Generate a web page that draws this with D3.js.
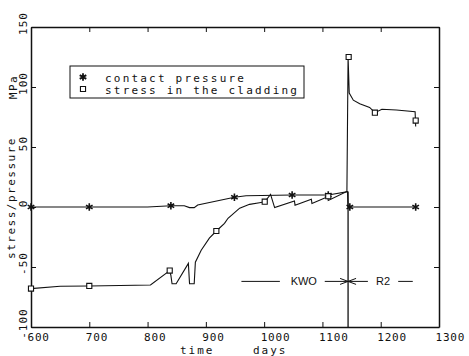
<!DOCTYPE html>
<html>
<head>
<meta charset="utf-8">
<script src="https://cdn.jsdelivr.net/npm/d3@7"></script>
<style>
  body { margin: 0; background: #fff; }
  text { font-family: "DejaVu Sans Mono", monospace; fill: #111; }
</style>
</head>
<body>
<div id="chart"></div>
<script>
// Values (time in days, MPa)
const xTicks = [600, 700, 800, 900, 1000, 1100, 1200, 1300];
const yTicks = [-100, -50, 0, 50, 100, 150];

const contactPressure = [
  [600, 0], [700, 0], [800, 0], [840, 1.1], [863, 1.1], [872, -0.5], [880, -0.5],
  [886, 1.7], [949, 8.1], [969, 9.4], [1048, 10], [1110, 10], [1143, 12.8],
  [1144, 0], [1260, 0]
];
const contactMarkers = [
  [600, 0], [700, 0], [840, 1.1], [949, 8.1], [1048, 10], [1110, 10], [1147, 0], [1260, 0]
];

const claddingStress = [
  [600, -68], [650, -66], [700, -65.8], [805, -65], [838, -53], [840, -57], [842, -64],
  [849, -64], [870, -47], [872, -64], [880, -64], [882, -46], [892, -36], [906, -26],
  [918, -20], [932, -13.6], [938, -9.4], [958, -1], [975, 2.2], [992, 3.6], [1001, 4.4],
  [1011, 10.5], [1018, -0.5], [1052, 5], [1053, 1.5], [1081, 6.5], [1082, 3],
  [1109, 8.5], [1110, 5.5], [1142, 13], [1144, 125], [1146, 95], [1153, 89],
  [1164, 86], [1181, 83], [1190, 78.6], [1202, 81.4], [1227, 80.8], [1259, 79.4],
  [1260, 67]
];
const stressMarkers = [
  [600, -68], [700, -65.8], [838, -53], [918, -20], [1001, 4.4], [1110, 9],
  [1145, 125], [1190, 78.6], [1260, 72]
];

const legendLabels = ["contact pressure", "stress in the cladding"];
const transferDay = 1144;   // KWO -> R2

const width = 469, height = 356;
const x = d3.scaleLinear().domain([600, 1300]).range([31, 439]);
const y = d3.scaleLinear().domain([-100, 150]).range([327, 27]);
const plain = d => String(d);

const svg = d3.select("#chart").append("svg")
  .attr("width", width)
  .attr("height", height);

// Frame with inward ticks on all four sides
const bottom = svg.append("g")
  .attr("transform", `translate(0,${y(-100)})`)
  .call(d3.axisBottom(x).tickValues(xTicks).tickFormat(plain)
    .tickSize(-5).tickSizeOuter(0).tickPadding(6));
bottom.selectAll("text")
  .attr("text-anchor", "start")
  .attr("x", -4)
  .style("font-size", "11px")
  .style("letter-spacing", "0.8px");

const left = svg.append("g")
  .attr("transform", `translate(${x(600)},0)`)
  .call(d3.axisLeft(y).tickValues(yTicks).tickFormat(plain).tickSize(-5).tickSizeOuter(0));
left.selectAll("text")
  .attr("x", null)
  .attr("dy", null)
  .attr("text-anchor", "middle")
  .attr("transform", "translate(-4,-4) rotate(-90)")
  .style("font-size", "11px")
  .style("letter-spacing", "1px");

svg.append("g")
  .attr("transform", `translate(0,${y(150)})`)
  .call(d3.axisTop(x).tickValues(xTicks).tickSize(-5).tickSizeOuter(0).tickFormat(""));

svg.append("g")
  .attr("transform", `translate(${x(1300)},0)`)
  .call(d3.axisRight(y).tickValues(yTicks).tickSize(-5).tickSizeOuter(0).tickFormat(""));

svg.selectAll(".domain").attr("stroke", "#111").attr("stroke-width", 1.5);
svg.selectAll(".tick line").attr("stroke", "#111");

// Axis titles
svg.append("text").attr("x", 180).attr("y", 354)
  .style("font-size", "11px").style("letter-spacing", "2px").text("time");
svg.append("text").attr("x", 253).attr("y", 354)
  .style("font-size", "11px").style("letter-spacing", "2px").text("days");
svg.append("text")
  .attr("transform", "translate(15,198) rotate(-90)")
  .attr("text-anchor", "middle")
  .style("font-size", "11px").style("letter-spacing", "1.5px")
  .text("stress/pressure");
svg.append("text")
  .attr("transform", "translate(17,87) rotate(-90)")
  .attr("text-anchor", "middle")
  .style("font-size", "11px").style("letter-spacing", "1.5px")
  .text("MPa");

// Curves
const line = d3.line().x(d => x(d[0])).y(d => y(d[1]));

svg.append("path")
  .datum(contactPressure)
  .attr("d", line)
  .attr("fill", "none")
  .attr("stroke", "#111")
  .attr("stroke-width", 1.1);

svg.append("path")
  .datum(claddingStress)
  .attr("d", line)
  .attr("fill", "none")
  .attr("stroke", "#111")
  .attr("stroke-width", 1.1);

// Divider at the transfer between reactors
svg.append("line")
  .attr("x1", x(transferDay)).attr("x2", x(transferDay))
  .attr("y1", y(-100)).attr("y2", y(13))
  .attr("stroke", "#111").attr("stroke-width", 1.3);

// Markers
const star = d3.symbol().type(d3.symbolAsterisk).size(40);
const square = d3.symbol().type(d3.symbolSquare).size(26);

svg.append("g").selectAll("path")
  .data(contactMarkers)
  .enter().append("path")
  .attr("transform", d => `translate(${x(d[0])},${y(d[1])})`)
  .attr("d", star)
  .attr("fill", "none")
  .attr("stroke", "#111")
  .attr("stroke-width", 1.6);

svg.append("g").selectAll("path")
  .data(stressMarkers)
  .enter().append("path")
  .attr("transform", d => `translate(${x(d[0])},${y(d[1])})`)
  .attr("d", square)
  .attr("fill", "#fff")
  .attr("stroke", "#111")
  .attr("stroke-width", 1.1);

// Legend
const legend = svg.append("g");
legend.append("rect")
  .attr("x", 70).attr("y", 66).attr("width", 234).attr("height", 32)
  .attr("fill", "#fff").attr("stroke", "#111").attr("stroke-width", 1);
legend.append("path")
  .attr("transform", "translate(83,77)")
  .attr("d", star)
  .attr("fill", "none").attr("stroke", "#111").attr("stroke-width", 1.8);
legend.append("path")
  .attr("transform", "translate(83,89)")
  .attr("d", square)
  .attr("fill", "#fff").attr("stroke", "#111").attr("stroke-width", 1.1);
legend.selectAll("text")
  .data(legendLabels)
  .enter().append("text")
  .attr("x", 105)
  .attr("y", (d, i) => 81.5 + i * 12.5)
  .style("font-size", "11px")
  .style("letter-spacing", "2.2px")
  .text(d => d);

// KWO / R2 annotation
const annoY = y(-62);
const anno = svg.append("g").attr("stroke", "#111").attr("stroke-width", 1);
anno.append("line").attr("x1", x(961)).attr("x2", x(1027)).attr("y1", annoY).attr("y2", annoY);
anno.append("line").attr("x1", x(1104)).attr("x2", x(transferDay)).attr("y1", annoY).attr("y2", annoY);
anno.append("path")
  .attr("d", `M${x(transferDay) - 8},${annoY - 3}L${x(transferDay)},${annoY}L${x(transferDay) - 8},${annoY + 3}`)
  .attr("fill", "none");
anno.append("line").attr("x1", x(transferDay)).attr("x2", x(1178)).attr("y1", annoY).attr("y2", annoY);
anno.append("path")
  .attr("d", `M${x(transferDay) + 8},${annoY - 3}L${x(transferDay)},${annoY}L${x(transferDay) + 8},${annoY + 3}`)
  .attr("fill", "none");
anno.append("line").attr("x1", x(1230)).attr("x2", x(1255)).attr("y1", annoY).attr("y2", annoY);

svg.append("text").attr("x", x(1068)).attr("y", annoY + 4)
  .attr("text-anchor", "middle")
  .style("font-family", "'Liberation Sans', Arial, sans-serif")
  .style("font-size", "11px")
  .text("KWO");
svg.append("text").attr("x", x(1204)).attr("y", annoY + 4)
  .attr("text-anchor", "middle")
  .style("font-family", "'Liberation Sans', Arial, sans-serif")
  .style("font-size", "11px")
  .text("R2");
</script>
</body>
</html>
